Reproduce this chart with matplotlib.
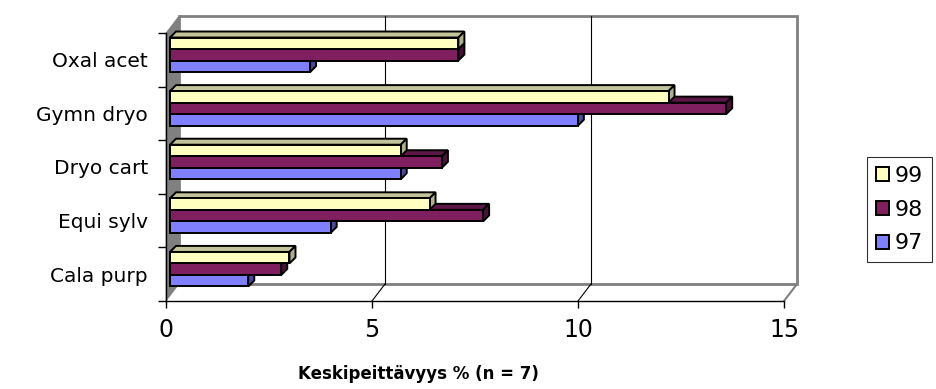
import matplotlib.pyplot as plt
from matplotlib.patches import Polygon
from matplotlib.patches import Patch

plt.rcParams['font.family'] = ['DejaVu Sans']

# species, bottom to top
species = ["Cala purp", "Equi sylv", "Dryo cart", "Gymn dryo", "Oxal acet"]
years = ["99", "98", "97"]
cover_99 = [2.9, 6.3, 5.6, 12.1, 7.0]
cover_98 = [2.7, 7.6, 6.6, 13.5, 7.0]
cover_97 = [1.9, 3.9, 5.6, 9.9, 3.4]
x_ticks = [0, 5, 10, 15]

face = {"99": "#FFFFC0", "98": "#801F60", "97": "#8080FF"}
top = {"99": "#C4C49A", "98": "#5C1645", "97": "#5C5CB8"}
side = {"99": "#B0B088", "98": "#4A1238", "97": "#4A4A99"}

W, H = 936, 389
fig = plt.figure(figsize=(W / 100, H / 100), dpi=100)
ax_l, ax_r, ax_t, ax_b = 166, 784, 33, 301
ax = fig.add_axes([ax_l / W, 1 - ax_b / H, (ax_r - ax_l) / W, (ax_b - ax_t) / H])
ax.set_xlim(0, 15)
ax.set_ylim(0, 5)

# pixel -> data unit conversion
ppx = (ax_r - ax_l) / 15
ppy = (ax_b - ax_t) / 5
dep_x, dep_y = 13 / ppx, 17 / ppy      # depth of the back wall
off_x, off_y = 4 / ppx, 5 / ppy        # bar front face offset
cap_x, cap_y = 6 / ppx, 6 / ppy        # bar thickness


def poly(pts, fc, ec="none", lw=0, z=1):
    ax.add_patch(Polygon(pts, closed=True, facecolor=fc, edgecolor=ec,
                         linewidth=lw, zorder=z, clip_on=False))


# back wall, left wall, floor
poly([(dep_x, dep_y), (15 + dep_x, dep_y), (15 + dep_x, 5 + dep_y), (dep_x, 5 + dep_y)],
     "white", "#808080", 2.0, 0)
poly([(0, 0), (0, 5), (dep_x, 5 + dep_y), (dep_x, dep_y)], "#808080", "#808080", 0.5, 0.5)
for xv in x_ticks[1:3]:
    ax.plot([xv + dep_x, xv + dep_x], [dep_y, 5 + dep_y], color="black", lw=0.8,
            zorder=0.6, clip_on=False)
    ax.plot([xv, xv + dep_x], [0, dep_y], color="black", lw=0.8, zorder=0.6, clip_on=False)
ax.plot([15, 15 + dep_x], [0, dep_y], color="#808080", lw=1.5, zorder=0.6, clip_on=False)

# bars, drawn bottom series first so the upper faces cover the lower tops
bh = 0.215
series = [("97", cover_97, -1), ("98", cover_98, 0), ("99", cover_99, 1)]
for yr, vals, k in series:
    for i, v in enumerate(vals):
        y0 = i + 0.5 + (k - 0.5) * bh + off_y
        y1 = y0 + bh
        x0 = off_x
        x1 = v + off_x
        # top face
        poly([(x0, y1), (x1, y1), (x1 + cap_x, y1 + cap_y), (x0 + cap_x, y1 + cap_y)],
             top[yr], "black", 1.4, 2)
        # end face
        poly([(x1, y0), (x1 + cap_x, y0 + cap_y), (x1 + cap_x, y1 + cap_y), (x1, y1)],
             side[yr], "black", 1.4, 2)
        # front face
        poly([(x0, y0), (x1, y0), (x1, y1), (x0, y1)], face[yr], "black", 1.4, 2)

# axes lines and ticks
for s in ["top", "right"]:
    ax.spines[s].set_visible(False)
for s in ["left", "bottom"]:
    ax.spines[s].set_color("black")
    ax.spines[s].set_linewidth(1.0)
    ax.spines[s].set_zorder(3)

ax.set_xticks(x_ticks)
ax.set_xticklabels([str(t) for t in x_ticks], fontsize=17)
ax.tick_params(axis="x", direction="out", length=5, width=1, pad=7)

ax.set_yticks(range(6))
ax.set_yticklabels([])
ax.set_yticks([i + 0.5 for i in range(5)], minor=True)
ax.set_yticklabels(species, minor=True, fontsize=14.5)
ax.tick_params(axis="y", which="major", direction="out", length=6, width=1)
ax.tick_params(axis="y", which="minor", length=0, pad=13)

fig.text(418 / W, 1 - 374 / H, "Keskipeittävyys % (n = 7)", fontsize=12,
         fontweight="bold", ha="center", va="center")

handles = [Patch(facecolor=face[y], edgecolor="black", linewidth=1.4, label=y)
           for y in years]
leg = fig.legend(handles=handles, loc="upper left",
                 bbox_to_anchor=(867 / W, 1 - 157 / H), fontsize=16,
                 frameon=True, fancybox=False, edgecolor="black",
                 handlelength=0.6, handleheight=0.6, handletextpad=0.25,
                 labelspacing=0.62, borderpad=0.4, borderaxespad=0)
leg.get_frame().set_linewidth(0.8)

fig.savefig("out.png", dpi=100)
